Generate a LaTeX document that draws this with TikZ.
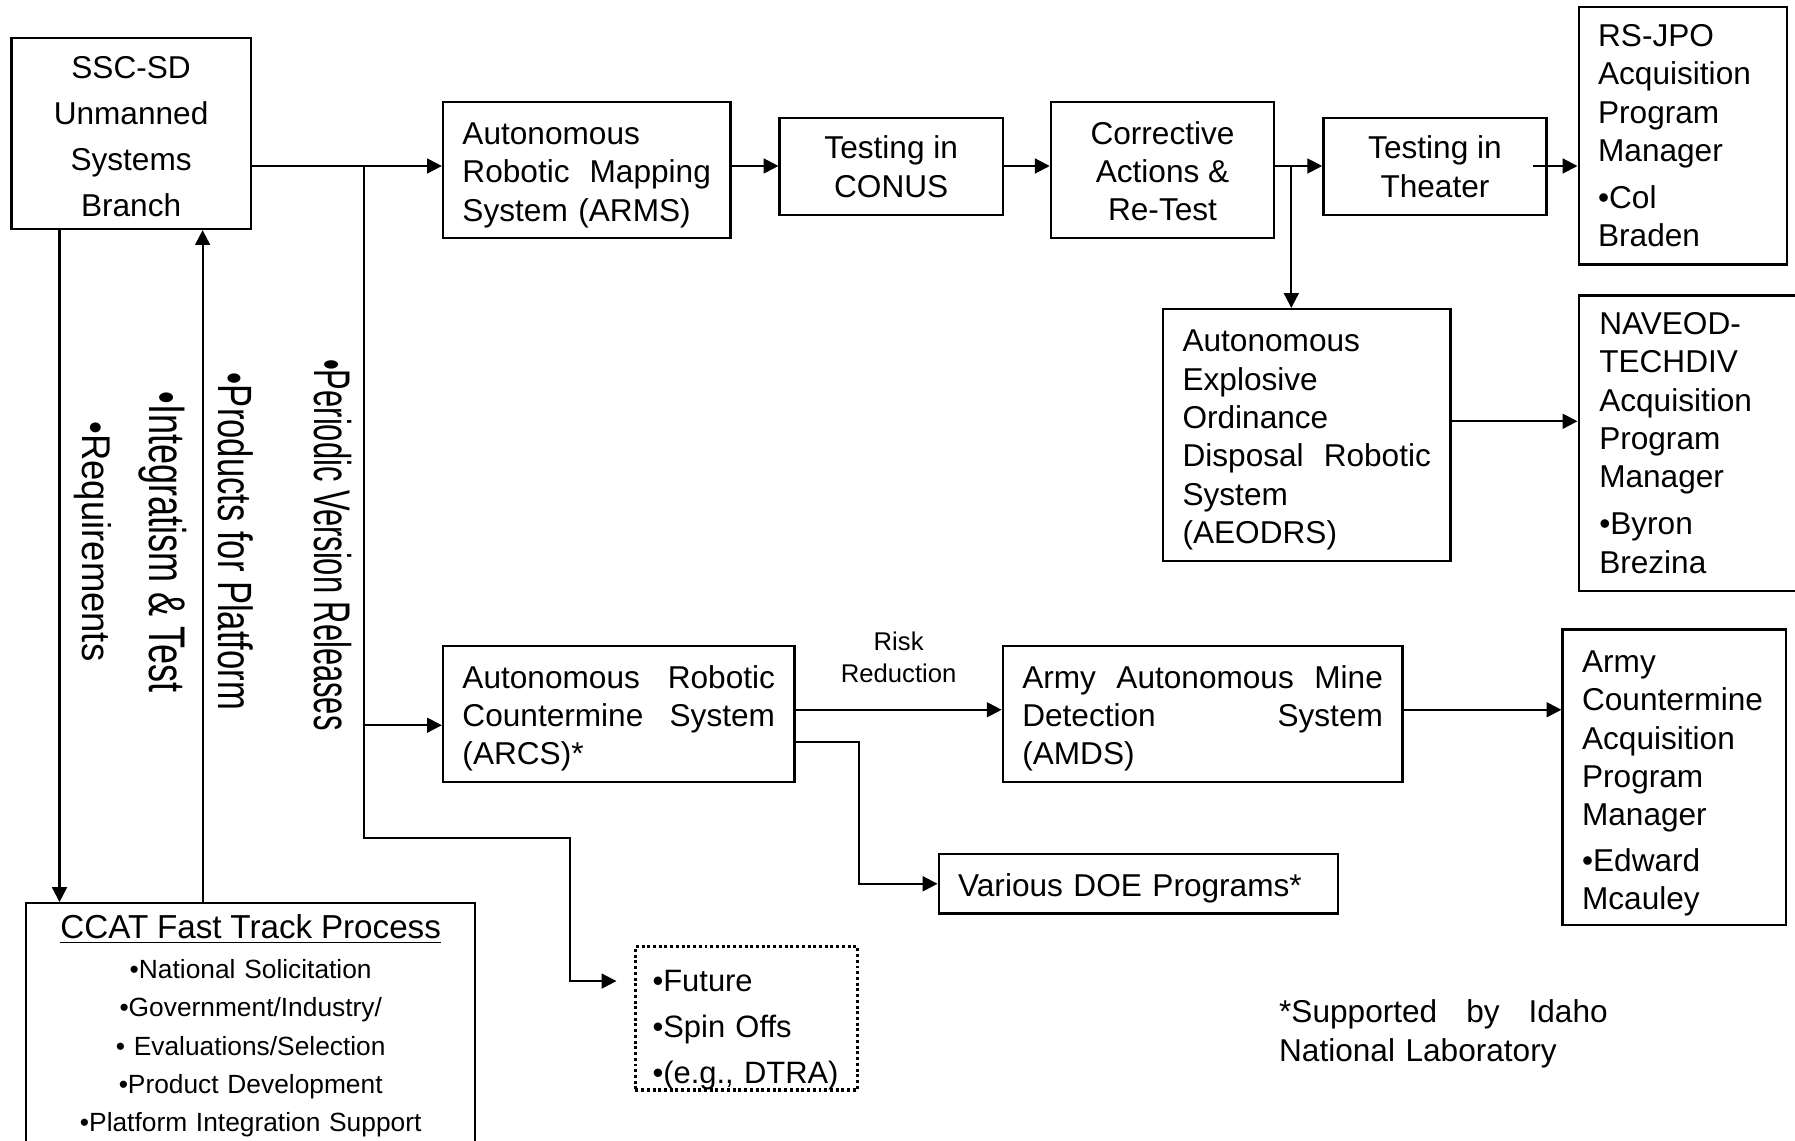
\documentclass[tikz,border=0pt]{standalone}
\usepackage{fontspec}
\setmainfont{Liberation Sans}
\usetikzlibrary{arrows.meta}
\newcommand\mtxt{\fontsize{13.8}{16.75}\selectfont}
\newcommand\tp[1]{\rule{0pt}{#1}}
\begin{document}
\begin{tikzpicture}[x=0.5pt,y=-0.5pt,
  box/.style={draw, line width=1pt, inner sep=0pt, font=\mtxt},
  lbox/.style={box, align=left},
  cbox/.style={box, align=center},
  sz/.style 2 args={minimum width=#1, minimum height=#2},
  arr/.style={line width=0.9pt, -{Triangle[length=6.5pt,width=6.5pt]}},
  vlab/.style={rotate=-90, inner sep=0pt, anchor=center}]
\useasboundingbox (0,0) rectangle (1568,996);
\fill[white] (0,0) rectangle (1568,996);

% boxes
\node (ssc) [cbox, sz={104.5pt}{83.5pt}, font=\fontsize{13.8}{20}\selectfont] at (114.5,116.5) {\tp{12.5pt}SSC-SD\\Unmanned\\Systems\\Branch};
\node (arms) [lbox, sz={125.5pt}{59.5pt}, text width=108.5pt] at (512.5,148.5) {\tp{14pt}Autonomous\\Robotic\hfill Mapping\\System (ARMS)};
\node (conus) [cbox, sz={97.5pt}{42.5pt}] at (778.5,145.5) {Testing in\\CONUS};
\node (corr) [cbox, sz={97.5pt}{59.5pt}] at (1015.5,148.5) {\tp{11pt}Corrective\\Actions \&\\Re-Test};
\node (theater) [cbox, sz={97.5pt}{42.5pt}] at (1253.5,145.5) {Testing in\\Theater};
\node (rsjpo) [lbox, sz={91pt}{112.5pt}, text width=74pt] at (1470,118.5) {RS-JPO\\Acquisition\\Program\\Manager\\[3.75pt]•Col\\Braden};
\node (aeodrs) [lbox, sz={125.5pt}{110pt}, text width=108.5pt] at (1141.5,380) {\tp{14pt}Autonomous\\Explosive\\Ordinance\\Disposal\hfill Robotic\\System\\(AEODRS)};
\node (naveod) [lbox, sz={98pt}{129pt}, text width=80pt] at (1477,387) {NAVEOD-\\TECHDIV\\Acquisition\\Program\\Manager\\[3.75pt]•Byron\\Brezina};
\node (arcs) [lbox, sz={153.5pt}{59.5pt}, text width=136.5pt] at (540.5,623.5) {\tp{14pt}Autonomous\hfill Robotic\\Countermine\hfill System\\(ARCS)*};
\node (amds) [lbox, sz={174.5pt}{59.5pt}, text width=157.5pt] at (1050.5,623.5) {\tp{14pt}Army\hfill Autonomous\hfill Mine\\Detection\hfill System\\(AMDS)};
\node (army) [lbox, sz={97.5pt}{129pt}, text width=80.5pt] at (1462.5,679) {\tp{15pt}Army\\Countermine\\Acquisition\\Program\\Manager\\[3.25pt]•Edward\\Mcauley};
\node (doe) [lbox, sz={174.5pt}{26pt}, text width=157.5pt] at (994.5,772) {\tp{14pt}Various DOE Programs*};
\node (future) [box, line width=1.5pt, dash pattern=on 1.3pt off 1.2pt, sz={97pt}{60.5pt}, align=left, text width=82pt, font=\fontsize{13.5}{20}\selectfont] at (652,889.5) {\tp{19.7pt}•Future\\•Spin Offs\\•(e.g., DTRA)};
\node (ccat) [box, anchor=north, inner xsep=0pt, inner ysep=5pt, text width=196pt, align=center, font=\fontsize{11.5}{16.7}\selectfont] at (219,788)
  {{\fontsize{14.5}{17}\selectfont\underline{CCAT Fast Track Process}}\\[0.7pt]•National Solicitation\\•Government/Industry/\\• Evaluations/Selection\\•Product Development\\•Platform Integration Support};

% free labels
\node (risk) [inner sep=0pt, align=center, font=\fontsize{11.2}{14}\selectfont] at (785,574) {Risk\\Reduction};
\node (sup) [inner sep=0pt, anchor=west, align=left, text width=143.5pt, font=\mtxt] at (1117,903) {*Supported\hfill by\hfill Idaho\\National Laboratory};
\node (vreq) [vlab, font=\fontsize{17.5}{20}\selectfont] at (81.5,473) {\scalebox{0.91}[1]{•Requirements}};
\node (vint) [vlab, font=\fontsize{22.5}{26}\selectfont] at (142,473.5) {\scalebox{0.70}[1]{•Integratism \& Test}};
\node (vprod) [vlab, font=\fontsize{21}{24}\selectfont] at (206,473) {\scalebox{0.72}[1]{•Products for Platform}};
\node (vper) [vlab, font=\fontsize{22.5}{26}\selectfont] at (290.5,476) {\scalebox{0.60}[1]{•Periodic Version Releases}};

% helper coordinates
\coordinate (r1) at (0,145);
\coordinate (r2) at (0,368);
\coordinate (r3) at (0,633.5);
\coordinate (r4) at (0,620);
\coordinate (j0) at (318,145);
\coordinate (j1) at (1128,145);
\coordinate (b1) at (318,732);
\coordinate (b2) at (498,732);
\coordinate (b3) at (498,857);
\coordinate (d1) at (750,648);
\coordinate (v1) at (52,0);
\coordinate (v2) at (177,0);
\coordinate (tt) at ([xshift=-6.5pt]theater.east);
\coordinate (ft) at ([xshift=-7.5pt]future.west);

% connectors
\draw[arr] (ssc.east |- r1) -- (arms.west |- r1);
\draw[arr] (arms.east |- r1) -- (conus.west |- r1);
\draw[arr] (conus.east |- r1) -- (corr.west |- r1);
\draw[arr] (corr.east |- r1) -- (theater.west |- r1);
\draw[arr] (j1) -- (aeodrs.north -| j1);
\draw[arr] (tt |- r1) -- (rsjpo.west |- r1);
\draw[arr] (aeodrs.east |- r2) -- (naveod.west |- r2);
\draw[arr] (j0 |- r3) -- (arcs.west |- r3);
\draw[arr] (j0) -- (b1) -- (b2) -- (b3) -- (ft |- b3);
\draw[arr] (arcs.east |- r4) -- (amds.west |- r4);
\draw[arr] (amds.east |- r4) -- (army.west |- r4);
\draw[arr] (arcs.east |- d1) -| (doe.west -| d1) -- (doe.west);
\draw[arr] (ssc.south -| v1) -- (ccat.north -| v1);
\draw[arr] (ccat.north -| v2) -- (ssc.south -| v2);
\end{tikzpicture}
\end{document}
